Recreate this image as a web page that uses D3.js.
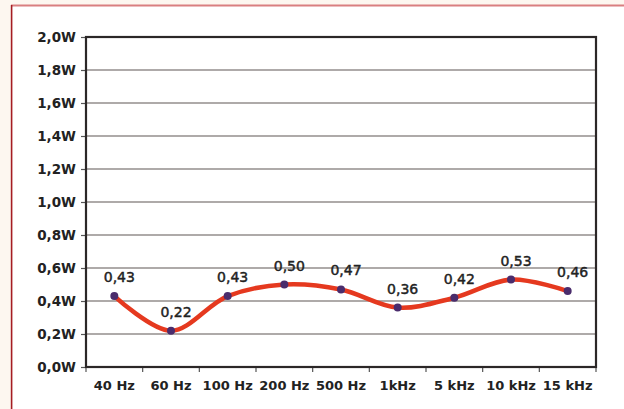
<!DOCTYPE html>
<html>
<head>
<meta charset="utf-8">
<script src="https://cdn.jsdelivr.net/npm/d3@7"></script>
<style>
  html, body { margin: 0; padding: 0; background: #fdf7f0; }
  svg { display: block; }
</style>
</head>
<body>
<svg id="chart" width="624" height="409"></svg>
<script>
// Output power measured at each test frequency
const categories = ["40 Hz", "60 Hz", "100 Hz", "200 Hz", "500 Hz", "1kHz", "5 kHz", "10 kHz", "15 kHz"];
const values = [0.43, 0.22, 0.43, 0.50, 0.47, 0.36, 0.42, 0.53, 0.46];
const yTicks = [0, 0.2, 0.4, 0.6, 0.8, 1.0, 1.2, 1.4, 1.6, 1.8, 2.0];

const fmt = v => v.toFixed(2).replace(".", ",");
const fmtTick = v => v.toFixed(1).replace(".", ",") + "W";

const svg = d3.select("#chart");
const W = 624, H = 409;
const m = { left: 86, right: 28, top: 37, bottom: 42 };

// Panel: white card with a thin red frame along the top and left edges
svg.append("rect").attr("x", 11.5).attr("y", 5.5).attr("width", W).attr("height", H)
  .attr("fill", "#ffffff");
svg.append("line").attr("x1", 11).attr("x2", W).attr("y1", 5.6).attr("y2", 5.6)
  .attr("stroke", "#d97f80").attr("stroke-width", 2);
svg.append("line").attr("x1", 11.6).attr("x2", 11.6).attr("y1", 5).attr("y2", H)
  .attr("stroke", "#a51d22").attr("stroke-width", 1.6);

const x = d3.scaleBand().domain(categories).range([m.left, W - m.right]);
const y = d3.scaleLinear().domain([0, 2]).range([H - m.bottom, m.top]);

// Horizontal gridlines
svg.append("g").selectAll("line").data(yTicks.filter(v => v > 0 && v < 2)).join("line")
  .attr("x1", m.left).attr("x2", W - m.right)
  .attr("y1", d => y(d)).attr("y2", d => y(d))
  .attr("stroke", "#aeaaa9").attr("stroke-width", 1.8);

// Y axis
const yAxis = svg.append("g").attr("transform", `translate(${m.left},0)`)
  .call(d3.axisLeft(y).tickValues(yTicks).tickFormat(fmtTick).tickSize(5).tickPadding(5));
yAxis.select(".domain").remove();
yAxis.selectAll(".tick line").attr("stroke", "#555").attr("stroke-width", 1.2);
yAxis.selectAll(".tick text")
  .attr("font-family", "DejaVu Sans, sans-serif").attr("font-size", 13.5)
  .attr("font-weight", "bold").attr("fill", "#222");

// X axis with ticks at band boundaries
const xAxis = svg.append("g").attr("transform", `translate(0,${H - m.bottom})`)
  .call(d3.axisBottom(x).tickSize(0).tickPadding(14));
xAxis.select(".domain").remove();
xAxis.selectAll(".tick text")
  .attr("font-family", "DejaVu Sans, sans-serif").attr("font-size", 13)
  .attr("font-weight", "bold").attr("fill", "#222");
const bounds = categories.map(c => x(c)).concat([x(categories[categories.length - 1]) + x.bandwidth()]);
svg.append("g").selectAll("line").data(bounds).join("line")
  .attr("x1", d => d).attr("x2", d => d)
  .attr("y1", H - m.bottom).attr("y2", H - m.bottom + 5)
  .attr("stroke", "#555").attr("stroke-width", 1.2);

// Plot frame
svg.append("rect").attr("x", m.left).attr("y", m.top)
  .attr("width", W - m.left - m.right).attr("height", H - m.top - m.bottom)
  .attr("fill", "none").attr("stroke", "#2b2727").attr("stroke-width", 2.2);

// Smoothed power curve
const cx = c => x(c) + x.bandwidth() / 2;
const line = d3.line().x((d, i) => cx(categories[i])).y(d => y(d)).curve(d3.curveCatmullRom.alpha(0.5));
svg.append("path").datum(values).attr("d", line)
  .attr("fill", "none").attr("stroke", "#e5391f").attr("stroke-width", 4.5)
  .attr("stroke-linecap", "round");

// Markers
svg.append("g").selectAll("circle").data(values).join("circle")
  .attr("cx", (d, i) => cx(categories[i])).attr("cy", d => y(d)).attr("r", 4)
  .attr("fill", "#4a2c6c");

// Value labels
svg.append("g").selectAll("text").data(values).join("text")
  .attr("x", (d, i) => cx(categories[i]) + 5).attr("y", d => y(d) - 14)
  .attr("text-anchor", "middle")
  .attr("font-family", "DejaVu Sans, sans-serif").attr("font-size", 14)
  .attr("fill", "#222").attr("stroke", "#222").attr("stroke-width", 0.45)
  .text(fmt);
</script>
</body>
</html>
